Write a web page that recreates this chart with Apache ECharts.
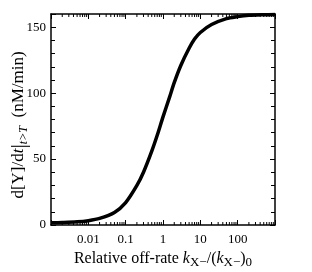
<!DOCTYPE html>
<html><head><meta charset="utf-8">
<script src="https://cdn.jsdelivr.net/npm/echarts@6/dist/echarts.min.js"></script>
<style>html,body{margin:0;padding:0;background:#fff}#c{width:312px;height:272px}</style>
</head><body><div id="c"></div>
<script>
var offRate = [0.001,0.002,0.005,0.01,0.02,0.05,0.1,0.2,0.3,0.5,0.7,1,1.5,2,3,5,7,10,20,50,100,200,500,1000];
var rateY   = [1.7,1.9,2.4,3.3,5.0,9.5,17,30,40,56,68,82,97,108,121,134,141,146,152,156.5,158,159,159.5,159.7];
var xTickLabels = {'-2':'0.01','-1':'0.1','0':'1','1':'10','2':'100'};
var yTickLabels = [0,50,100,150];
var minorTickVals = [];
[0.001,0.01,0.1,1,10,100].forEach(function(d){ for (var m=2;m<=9;m++) minorTickVals.push(d*m); });

var serif = 'Liberation Serif';
var chart = echarts.init(document.getElementById('c'), null, {renderer:'canvas'});
var axisLineStyle = {color:'#000', width:1.5};
chart.setOption({
  animation:false,
  grid:{left:51,right:37,top:14,bottom:47, outerBoundsMode:'none', containLabel:false},
  graphic:[{
    type:'text', x:19, y:125, rotation:Math.PI/2,
    style:{
      text:'d[Y]/d{i|t}{bar||}{sub|t>T}  (nM/min)',
      fill:'#000', font:'17px "Liberation Serif"', align:'center', verticalAlign:'middle',
      rich:{i:{fontStyle:'italic', fontFamily:serif, fontSize:17, fill:'#000'},
            bar:{fontFamily:serif, fontSize:22, fill:'#000'},
            sub:{fontStyle:'italic', fontFamily:serif, fontSize:12, fill:'#000', padding:[9,0,0,0]}}
    }
  }],
  xAxis:[{
    type:'log', logBase:10, min:0.001, max:1000, position:'bottom',
    axisLine:{show:true, onZero:false, lineStyle:axisLineStyle},
    axisTick:{show:true, inside:true, length:5, lineStyle:{color:'#000',width:1}},
    splitLine:{show:false},
    axisLabel:{margin:8, color:'#000', fontFamily:serif, fontSize:13,
      formatter:function(v){ var k=String(Math.round(Math.log10(v))); return xTickLabels[k]||''; }},
    name:'Relative off-rate {i|k}{sub|X−}/({i|k}{sub|X−}){sub|0}',
    nameLocation:'middle', nameGap:24,
    nameTextStyle:{color:'#000', fontFamily:serif, fontSize:16,
      rich:{i:{fontStyle:'italic', fontFamily:serif, fontSize:16, color:'#000'},
            sub:{fontFamily:serif, fontSize:13, color:'#000', padding:[7,0,0,0]}}}
  },{
    type:'log', logBase:10, min:0.001, max:1000, position:'top',
    axisLine:{show:true, onZero:false, lineStyle:axisLineStyle},
    axisTick:{show:true, inside:true, length:5, lineStyle:{color:'#000',width:1}},
    axisLabel:{show:false}, splitLine:{show:false}
  }],
  yAxis:[{
    type:'value', min:0, max:160, interval:50, position:'left',
    axisLine:{show:true, onZero:false, lineStyle:axisLineStyle},
    axisTick:{show:true, inside:true, length:5, lineStyle:{color:'#000',width:1}},
    minorTick:{show:true, splitNumber:5, length:4, lineStyle:{color:'#000',width:1}},
    splitLine:{show:false},
    axisLabel:{margin:5, color:'#000', fontFamily:serif, fontSize:13, showMaxLabel:false,
      formatter:function(v){ return yTickLabels.indexOf(v)>=0 ? String(v) : ''; }}
  },{
    type:'value', min:0, max:160, interval:50, position:'right',
    axisLine:{show:true, onZero:false, lineStyle:axisLineStyle},
    axisTick:{show:true, inside:true, length:5, lineStyle:{color:'#000',width:1}},
    minorTick:{show:true, splitNumber:5, length:4, lineStyle:{color:'#000',width:1}},
    splitLine:{show:false}, axisLabel:{show:false}
  }],
  series:[{
    type:'line', xAxisIndex:0, yAxisIndex:0, smooth:0.3, showSymbol:false,
    lineStyle:{color:'#000', width:3.5},
    data: offRate.map(function(x,i){ return [x, rateY[i]]; })
  },{
    type:'custom', xAxisIndex:0, yAxisIndex:0, silent:true, clip:false,
    data: minorTickVals.map(function(v){ return [v]; }),
    renderItem:function(params, api){
      var b = api.coord([api.value(0), 0]);
      var t = api.coord([api.value(0), 160]);
      return {type:'group', children:[
        {type:'line', shape:{x1:b[0], y1:b[1], x2:b[0], y2:b[1]-3}, style:{stroke:'#000', lineWidth:1}},
        {type:'line', shape:{x1:t[0], y1:t[1], x2:t[0], y2:t[1]+3}, style:{stroke:'#000', lineWidth:1}}
      ]};
    }
  }]
});
</script></body></html>
